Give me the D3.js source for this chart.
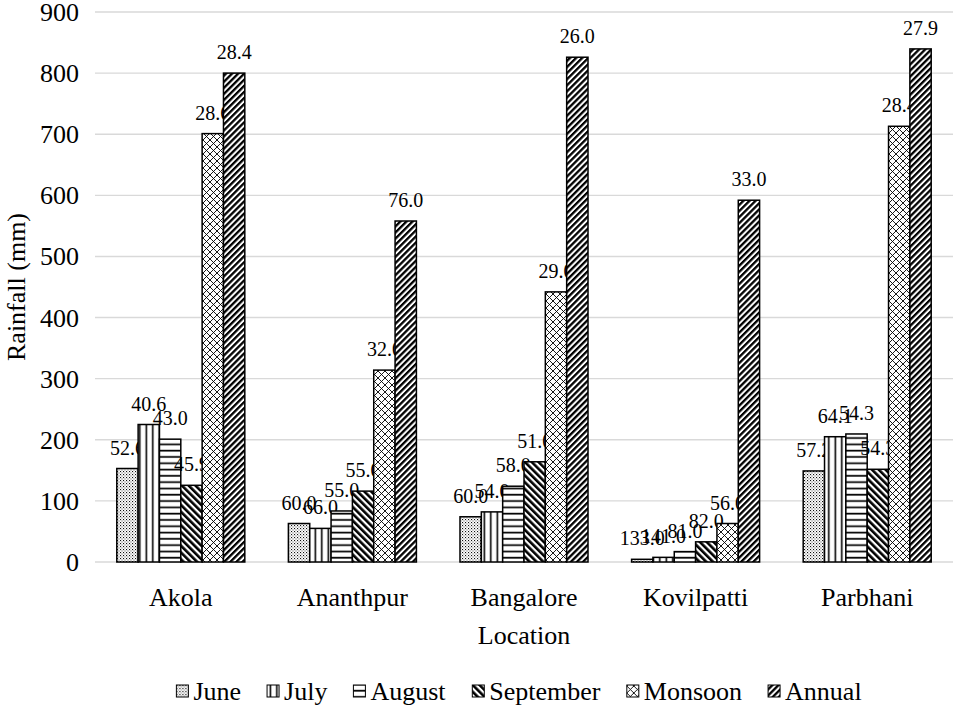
<!DOCTYPE html>
<html>
<head>
<meta charset="utf-8">
<script src="https://cdn.jsdelivr.net/npm/d3@7"></script>
<style>
  body { margin: 0; background: #fff; }
  svg { display: block; font-family: "Liberation Serif", "Times New Roman", serif; }
</style>
</head>
<body>
<svg id="chart"></svg>
<script>
const locations = ["Akola", "Ananthpur", "Bangalore", "Kovilpatti", "Parbhani"];
const seriesNames = ["June", "July", "August", "September", "Monsoon", "Annual"];

// rainfall (mm), one array per series, in location order
const june      = [153, 63, 74, 4.4, 149];
const july      = [225, 55, 82, 7.6, 205];
const august    = [201, 83.5, 124, 17, 209.5];
const september = [125.5, 116, 164, 33, 151.7];
const monsoon   = [701, 314, 442, 63, 713];
const annual    = [800, 558, 826, 592, 839.6];

// labels printed over the bars
const juneLab      = ["52.6", "60.0", "60.0", "133.0", "57.2"];
const julyLab      = ["40.6", "66.0", "54.0", "141.0", "64.1"];
const augustLab    = ["43.0", "55.0", "58.0", "81.0", "54.3"];
const septemberLab = ["45.9", "55.0", "51.0", "82.0", "54.3"];
const monsoonLab   = ["28.6", "32.0", "29.0", "56.0", "28.4"];
const annualLab    = ["28.4", "76.0", "26.0", "33.0", "27.9"];

const yTicks = [0, 100, 200, 300, 400, 500, 600, 700, 800, 900];

const values = [june, july, august, september, monsoon, annual];
const labels = [juneLab, julyLab, augustLab, septemberLab, monsoonLab, annualLab];

const w = 955, h = 709;
const margin = {top: 12, right: 2, bottom: 147, left: 95};

const svg = d3.select('#chart').attr('width', w).attr('height', h);

const x = d3.scaleBand()
  .domain(locations)
  .range([margin.left, w - margin.right])
  .paddingInner(0.254)
  .paddingOuter(0.127);

const xs = d3.scaleBand()
  .domain(seriesNames)
  .range([0, x.bandwidth()]);

const y = d3.scaleLinear()
  .domain([0, 900])
  .range([h - margin.bottom, margin.top]);

// fill patterns
const defs = svg.append('defs');

const pDots = defs.append('pattern').attr('id', 'p-June')
  .attr('patternUnits', 'userSpaceOnUse').attr('width', 3).attr('height', 3);
pDots.append('rect').attr('width', 3).attr('height', 3).attr('fill', '#fff');
pDots.append('rect').attr('x', 0).attr('y', 0).attr('width', 1.1).attr('height', 1.1).attr('fill', '#111');
pDots.append('rect').attr('x', 1.5).attr('y', 1.5).attr('width', 1).attr('height', 1).attr('fill', '#444');

const pVert = defs.append('pattern').attr('id', 'p-July')
  .attr('patternUnits', 'userSpaceOnUse').attr('width', 6.5).attr('height', 10);
pVert.append('rect').attr('width', 6.5).attr('height', 10).attr('fill', '#fff');
pVert.append('rect').attr('x', 2.5).attr('width', 1.6).attr('height', 10).attr('fill', '#000');

const pHor = defs.append('pattern').attr('id', 'p-August')
  .attr('patternUnits', 'userSpaceOnUse').attr('width', 10).attr('height', 6.3);
pHor.append('rect').attr('width', 10).attr('height', 6.3).attr('fill', '#fff');
pHor.append('rect').attr('y', 2.5).attr('width', 10).attr('height', 1.7).attr('fill', '#000');

const pBack = defs.append('pattern').attr('id', 'p-September')
  .attr('patternUnits', 'userSpaceOnUse').attr('width', 4.8).attr('height', 10)
  .attr('patternTransform', 'rotate(-45)');
pBack.append('rect').attr('width', 4.8).attr('height', 10).attr('fill', '#fff');
pBack.append('rect').attr('x', 0).attr('width', 2.6).attr('height', 10).attr('fill', '#000');

const pDiam = defs.append('pattern').attr('id', 'p-Monsoon')
  .attr('patternUnits', 'userSpaceOnUse').attr('width', 7).attr('height', 7);
pDiam.append('rect').attr('width', 7).attr('height', 7).attr('fill', '#fff');
pDiam.append('path').attr('d', 'M0,0L7,7M7,0L0,7').attr('stroke', '#000').attr('stroke-width', 0.9);

const pFwd = defs.append('pattern').attr('id', 'p-Annual')
  .attr('patternUnits', 'userSpaceOnUse').attr('width', 4.3).attr('height', 10)
  .attr('patternTransform', 'rotate(45)');
pFwd.append('rect').attr('width', 4.3).attr('height', 10).attr('fill', '#fff');
pFwd.append('rect').attr('x', 0).attr('width', 2.3).attr('height', 10).attr('fill', '#000');

// gridlines
svg.append('g')
  .selectAll('line')
  .data(yTicks)
  .enter()
  .append('line')
  .attr('x1', margin.left).attr('x2', w - margin.right)
  .attr('y1', (d) => y(d)).attr('y2', (d) => y(d))
  .attr('stroke', '#d9d9d9').attr('stroke-width', 1.4);

// y tick labels
svg.append('g')
  .selectAll('text')
  .data(yTicks)
  .enter()
  .append('text')
  .attr('x', 79)
  .attr('y', (d) => y(d) + 9)
  .attr('text-anchor', 'end')
  .attr('font-size', 26)
  .text((d) => d);

// bars and labels, series by series
seriesNames.forEach((name, s) => {
  const rows = locations.map((loc, i) => ({loc, v: values[s][i], lab: labels[s][i]}));
  const g = svg.append('g').attr('class', 'series ' + name);

  g.selectAll('rect')
    .data(rows)
    .enter()
    .append('rect')
    .attr('x', (d) => x(d.loc) + xs(name))
    .attr('y', (d) => y(d.v))
    .attr('width', xs.bandwidth())
    .attr('height', (d) => y(0) - y(d.v))
    .attr('fill', 'url(#p-' + name + ')')
    .attr('stroke', '#000')
    .attr('stroke-width', 1.5);

  g.selectAll('text')
    .data(rows)
    .enter()
    .append('text')
    .attr('x', (d) => x(d.loc) + xs(name) + xs.bandwidth() / 2)
    .attr('y', (d) => y(d.v) - 14)
    .attr('text-anchor', 'middle')
    .attr('font-size', 20)
    .text((d) => d.lab);
});

// category labels
svg.append('g')
  .selectAll('text')
  .data(locations)
  .enter()
  .append('text')
  .attr('x', (d) => x(d) + x.bandwidth() / 2)
  .attr('y', 606)
  .attr('text-anchor', 'middle')
  .attr('font-size', 26)
  .text((d) => d);

svg.append('text')
  .attr('x', (margin.left + w - margin.right) / 2)
  .attr('y', 644)
  .attr('text-anchor', 'middle')
  .attr('font-size', 26)
  .text('Location');

svg.append('text')
  .attr('transform', 'translate(25,' + (y(450)) + ') rotate(-90)')
  .attr('text-anchor', 'middle')
  .attr('font-size', 26)
  .text('Rainfall (mm)');

// legend
const legend = svg.append('g');
const items = legend.selectAll('g')
  .data(seriesNames)
  .enter()
  .append('g');

items.append('rect')
  .attr('width', 12).attr('height', 12)
  .attr('y', -15)
  .attr('fill', (d) => 'url(#p-' + d + ')')
  .attr('stroke', '#000').attr('stroke-width', 1);

items.append('text')
  .attr('x', 17)
  .attr('font-size', 26)
  .text((d) => d);

let cursor = 0;
const gap = 26;
items.each(function () {
  const wItem = this.getBBox().width;
  this.__x = cursor;
  cursor += wItem + gap;
});
const total = cursor - gap;
const startX = 519 - total / 2;
items.attr('transform', function () { return 'translate(' + (startX + this.__x) + ',700)'; });
</script>
</body>
</html>
